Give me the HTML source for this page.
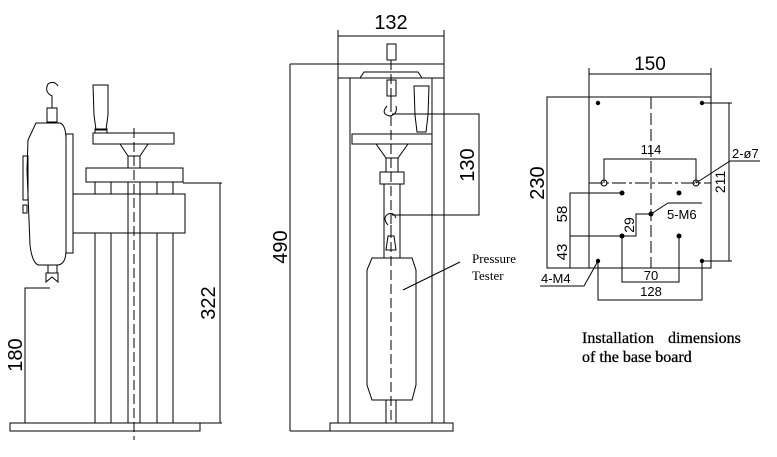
<!DOCTYPE html>
<html><head><meta charset="utf-8"><style>
html,body{margin:0;padding:0;background:#fff;}
svg{display:block}
text{font-family:"Liberation Sans",sans-serif;fill:#000}
.s{font-family:"Liberation Serif",serif}
</style></head><body>
<svg width="777" height="457" viewBox="0 0 777 457" xmlns="http://www.w3.org/2000/svg">
<g fill="none" stroke="#000" stroke-width="1">
<!-- LEFT VIEW -->
<rect x="10" y="423" width="190" height="8"/>
<line x1="95" y1="182" x2="95" y2="423"/><line x1="111" y1="182" x2="111" y2="423"/>
<line x1="128" y1="158" x2="128" y2="423"/><line x1="140" y1="158" x2="140" y2="423"/>
<line x1="157" y1="182" x2="157" y2="423"/><line x1="173" y1="182" x2="173" y2="423"/>
<rect x="73" y="194" width="112" height="39" fill="#fff"/>
<line x1="128" y1="194" x2="128" y2="233"/><line x1="140" y1="194" x2="140" y2="233"/>
<rect x="86" y="168" width="97" height="14" fill="#fff"/>
<rect x="93" y="133" width="81" height="11"/>
<path d="M120 144 L128 156 L128 168 M148 144 L140 156 L140 168 M128 156 H140"/>
<path d="M93 85 H108 L108 115 L106 130 H96 L94 115 Z"/>
<rect x="95" y="129" width="12" height="4"/>
<line x1="134" y1="128" x2="134" y2="440" stroke-dasharray="10,4"/>
<!-- gauge -->
<rect x="66" y="134" width="7" height="119"/>
<path d="M36 123 H60 Q66 125 66 140 V250 Q66 264 58 265 H38 Q32 262 30 245 L27 170 L28 140 Z"/>
<rect x="23" y="156" width="5" height="44"/><rect x="23" y="205" width="4" height="8"/>
<rect x="47" y="108" width="10" height="14"/>
<path d="M52 108 V96 Q44 92 48 84 Q54 80 58 86"/>
<rect x="48" y="265" width="9" height="8"/>
<path d="M46 282 V273 H58 V282 L52 277 Z"/>
<!-- 180 -->
<path d="M25 423 V288 H50"/>
<!-- 322 -->
<path d="M183 183 H222 M220 183 V423 M200 423 H222"/>

<!-- MIDDLE VIEW -->
<path d="M338 36 H444 M338 30 V64 M444 30 V64"/>
<path d="M290 64 H338 M290 64 V431 M290 431 H330"/>
<rect x="338" y="64" width="106" height="14"/>
<path d="M338 78 V423 M350 78 V423 M432 78 V423 M444 78 V423"/>
<path d="M350 78 L360 78 L364 72 H418 L422 78 H432"/>
<rect x="330" y="423" width="123" height="8"/>
<rect x="387" y="44" width="9" height="16"/>
<rect x="387" y="80" width="9" height="16"/>
<path d="M391 96 V104 M387 106 Q380 114 390 116 Q398 114 396 106"/>
<path d="M414 86 H429 L428 115 L426 132 H417 L415 115 Z"/>
<rect x="352" y="134" width="80" height="10"/>
<path d="M376 144 L386 158 H398 L408 144 M386 158 V172 M398 158 V172"/>
<rect x="380" y="172" width="24" height="12"/>
<path d="M384 184 V258 M400 184 V258"/>
<path d="M388 225 Q382 218 388 214 Q394 212 396 218"/>
<path d="M391 225 V236"/>
<path d="M386 250 L388 236 H394 L396 250 Z"/>
<path d="M372 258 H412 L416 270 V385 L412 400 H372 L367 385 V270 Z"/>
<rect x="386" y="400" width="10" height="23"/>
<line x1="391" y1="60" x2="391" y2="420" stroke-dasharray="10,4"/>
<path d="M392 114 H479 V215 H392"/>
<line x1="403" y1="290" x2="460" y2="262"/>

<!-- BASE BOARD -->
<rect x="547" y="97" width="164" height="171"/>
<path d="M589 74 H711 M589 68 V268 M711 68 V97"/>
<line x1="651" y1="97" x2="651" y2="268" stroke-dasharray="12,4"/>
<line x1="589" y1="183" x2="711" y2="183" stroke-dasharray="14,3,3,3"/>
<path d="M604 183 V159 H696 V183"/>
<circle cx="604" cy="183" r="3"/><circle cx="696" cy="183" r="3"/>
<path d="M702 103 H732 M729 103 V261 M702 261 H732"/>
<path d="M696 183 L730 161 H760"/>
<path d="M622 193 H570 V268 M570 236 H622 M622 236 H636 V214 H651"/>
<path d="M651 214 L668 203 H702"/>
<path d="M622 236 V282 H679 V236"/>
<path d="M598 261 V300 H702 V261"/>
<path d="M540 286 H584 L598 261"/>
</g>
<g fill="#000">
<circle cx="598" cy="103" r="2.2"/><circle cx="702" cy="103" r="2.2"/>
<circle cx="598" cy="261" r="2.2"/><circle cx="702" cy="261" r="2.2"/>
<circle cx="622" cy="193" r="2.5"/><circle cx="679" cy="193" r="2.5"/>
<circle cx="651" cy="214" r="2.5"/><circle cx="622" cy="236" r="2.5"/><circle cx="679" cy="236" r="2.5"/>
</g>
<text transform="translate(22,355) rotate(-90)" font-size="20" text-anchor="middle">180</text>
<text transform="translate(215,303) rotate(-90)" font-size="20" text-anchor="middle">322</text>
<text x="391" y="29" font-size="20" text-anchor="middle">132</text>
<text transform="translate(287,247) rotate(-90)" font-size="20" text-anchor="middle">490</text>
<text transform="translate(474,165) rotate(-90)" font-size="20" text-anchor="middle">130</text>
<text class="s" x="472" y="263" font-size="13">Pressure</text>
<text class="s" x="472" y="280" font-size="13">Tester</text>
<text x="650" y="70" font-size="19" text-anchor="middle">150</text>
<text transform="translate(544,183) rotate(-90)" font-size="20" text-anchor="middle">230</text>
<text x="651" y="154" font-size="13" text-anchor="middle">114</text>
<text x="732" y="158" font-size="13">2-ø7</text>
<text transform="translate(725,182) rotate(-90)" font-size="14" text-anchor="middle">211</text>
<text transform="translate(567,214) rotate(-90)" font-size="15" text-anchor="middle">58</text>
<text transform="translate(567,252) rotate(-90)" font-size="15" text-anchor="middle">43</text>
<text transform="translate(634,225) rotate(-90)" font-size="14" text-anchor="middle">29</text>
<text x="667" y="219" font-size="13">5-M6</text>
<text x="541" y="283" font-size="13">4-M4</text>
<text x="651" y="280" font-size="13" text-anchor="middle">70</text>
<text x="651" y="296" font-size="13" text-anchor="middle">128</text>
<text class="s" x="582" y="343" font-size="16" word-spacing="10" stroke="#000" stroke-width="0.3">Installation dimensions</text>
<text class="s" x="582" y="362" font-size="16" stroke="#000" stroke-width="0.3">of the base board</text>
</svg>
</body></html>
